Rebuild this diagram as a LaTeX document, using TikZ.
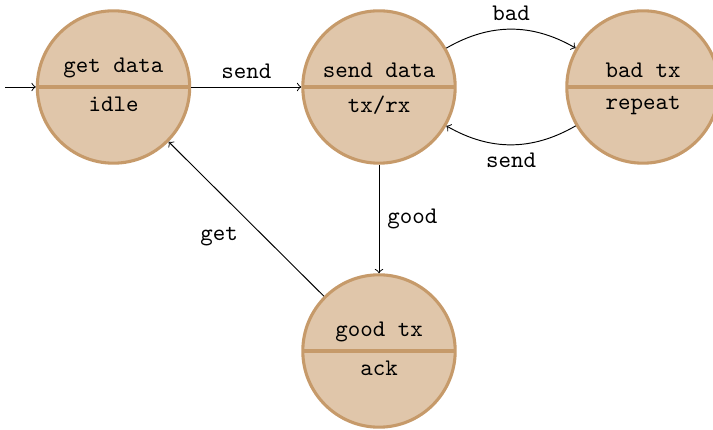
\documentclass[tikz,border=0pt]{standalone}
\usetikzlibrary{shapes.multipart}
\definecolor{statefill}{RGB}{224,198,170}
\definecolor{stateline}{RGB}{198,154,106}
\begin{document}
\begin{tikzpicture}[x=0.42pt,y=-0.42pt,
  state/.style={circle split, draw=stateline, fill=statefill,
    line width=1.3pt, minimum size=64pt, font=\ttfamily},
  trans/.style={->, line width=0.4pt},
  lbl/.style={font=\ttfamily}]
\useasboundingbox (0,0) rectangle (713,430);
% states
\node[state] (get)  at (113.5,87)  {get data \nodepart{lower} idle};
\node[state] (send) at (379,87)    {send data \nodepart{lower} tx/rx};
\node[state] (bad)  at (643,87)    {bad tx \nodepart{lower} repeat};
\node[state] (good) at (379,351)   {good tx \nodepart{lower} ack};
\coordinate (start) at (5,87);
% transitions
\draw[trans] (start) -- (get);
\draw[trans] (get) -- node[above,lbl] {send} (send);
\draw[trans] (send) to[bend left=30] node[above,lbl] {bad} (bad);
\draw[trans] (bad) to[bend left=30] node[below,lbl] {send} (send);
\draw[trans] (send) -- node[right,lbl] {good} (good);
\draw[trans] (good) -- node[auto,lbl] {get} (get);
\end{tikzpicture}
\end{document}
